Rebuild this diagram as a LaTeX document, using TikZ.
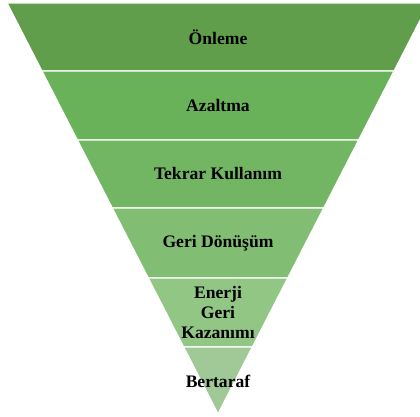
\documentclass[tikz,border=0pt]{standalone}
\usepackage{fontspec}
\setmainfont{Liberation Serif}
\definecolor{c1}{RGB}{96,158,76}
\definecolor{c2}{RGB}{106,178,90}
\definecolor{c3}{RGB}{114,182,100}
\definecolor{c4}{RGB}{129,190,116}
\definecolor{c5}{RGB}{145,198,133}
\definecolor{c6}{RGB}{160,201,151}
\begin{document}
\begin{tikzpicture}[x=1pt,y=-1pt,
  band/.style={draw=white, line width=1.3pt, line join=miter},
  lbl/.style={font=\bfseries\fontsize{17.6}{20}\selectfont, align=center, text=black, inner sep=0pt}]
\useasboundingbox (0,0) rectangle (420,417);
\clip (0,0) rectangle (420,417);
\fill[white] (0,0) rectangle (420,417);
\filldraw[band, fill=c1] (7,3) -- (429,3) -- (394.1,71) -- (41.9,71) -- cycle;
\filldraw[band, fill=c2] (41.9,71) -- (394.1,71) -- (358.7,140) -- (77.3,140) -- cycle;
\filldraw[band, fill=c3] (77.3,140) -- (358.7,140) -- (323.8,208) -- (112.2,208) -- cycle;
\filldraw[band, fill=c4] (112.2,208) -- (323.8,208) -- (287.8,278) -- (148.2,278) -- cycle;
\filldraw[band, fill=c5] (148.2,278) -- (287.8,278) -- (252.4,347) -- (183.6,347) -- cycle;
\filldraw[band, fill=c6] (183.6,347) -- (252.4,347) -- (218,414) -- cycle;
\node[lbl] (l1) at (218,37) {Önleme};
\node[lbl] (l2) at (218,105.5) {Azaltma};
\node[lbl] (l3) at (218,174) {Tekrar Kullanım};
\node[lbl] (l4) at (218,243) {Geri Dönüşüm};
\node[lbl] (l5) at (218,312) {Enerji\\Geri\\Kazanımı};
\node[lbl] (l6) at (218,381) {Bertaraf};
\end{tikzpicture}
\end{document}
